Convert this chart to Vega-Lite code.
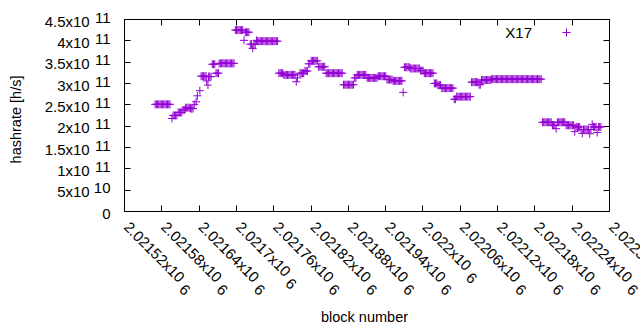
{
  "$schema": "https://vega.github.io/schema/vega-lite/v6.json",
  "width": 485,
  "height": 192,
  "autosize": {"type": "none"},
  "padding": {"left": 124, "top": 19, "right": 31, "bottom": 119},
  "background": "white",
  "config": {
    "view": {"stroke": null},
    "font": "Liberation Sans",
    "axis": {
      "grid": false,
      "domainColor": "black",
      "domainWidth": 1,
      "tickColor": "black",
      "tickWidth": 1,
      "tickSize": -6,
      "labelColor": "black",
      "titleColor": "black",
      "labelFont": "Liberation Sans",
      "titleFont": "Liberation Sans",
      "labelFontSize": 15,
      "titleFontSize": 14.5,
      "titleFontWeight": "normal",
      "labelOverlap": false,
      "labelFlush": false,
      "labelBound": false
    }
  },
  "data": {
    "values": [
      {"block": 2021570, "hashrate": 2.5e11},
      {"block": 2021572, "hashrate": 2.5e11},
      {"block": 2021574, "hashrate": 2.5e11},
      {"block": 2021576, "hashrate": 2.5e11},
      {"block": 2021578, "hashrate": 2.5e11},
      {"block": 2021580, "hashrate": 2.5e11},
      {"block": 2021582, "hashrate": 2.5e11},
      {"block": 2021584, "hashrate": 2.5e11},
      {"block": 2021586, "hashrate": 2.5e11},
      {"block": 2021588, "hashrate": 2.5e11},
      {"block": 2021590, "hashrate": 2.5e11},
      {"block": 2021592, "hashrate": 2.5e11},
      {"block": 2021594, "hashrate": 2.5e11},
      {"block": 2021597, "hashrate": 2.17e11},
      {"block": 2021599, "hashrate": 2.24e11},
      {"block": 2021601, "hashrate": 2.24e11},
      {"block": 2021603, "hashrate": 2.24e11},
      {"block": 2021605, "hashrate": 2.24e11},
      {"block": 2021607, "hashrate": 2.31e11},
      {"block": 2021609, "hashrate": 2.31e11},
      {"block": 2021611, "hashrate": 2.31e11},
      {"block": 2021613, "hashrate": 2.31e11},
      {"block": 2021615, "hashrate": 2.37e11},
      {"block": 2021617, "hashrate": 2.37e11},
      {"block": 2021619, "hashrate": 2.42e11},
      {"block": 2021621, "hashrate": 2.42e11},
      {"block": 2021623, "hashrate": 2.42e11},
      {"block": 2021625, "hashrate": 2.42e11},
      {"block": 2021627, "hashrate": 2.40e11},
      {"block": 2021629, "hashrate": 2.40e11},
      {"block": 2021631, "hashrate": 2.40e11},
      {"block": 2021633, "hashrate": 2.50e11},
      {"block": 2021636, "hashrate": 2.56e11},
      {"block": 2021638, "hashrate": 2.70e11},
      {"block": 2021642, "hashrate": 2.82e11},
      {"block": 2021644, "hashrate": 3.16e11},
      {"block": 2021646, "hashrate": 3.16e11},
      {"block": 2021648, "hashrate": 3.16e11},
      {"block": 2021650, "hashrate": 3.16e11},
      {"block": 2021652, "hashrate": 3.16e11},
      {"block": 2021653, "hashrate": 3.05e11},
      {"block": 2021655, "hashrate": 2.95e11},
      {"block": 2021656, "hashrate": 3.15e11},
      {"block": 2021658, "hashrate": 3.15e11},
      {"block": 2021660, "hashrate": 3.15e11},
      {"block": 2021662, "hashrate": 3.44e11},
      {"block": 2021664, "hashrate": 3.44e11},
      {"block": 2021666, "hashrate": 3.44e11},
      {"block": 2021668, "hashrate": 3.23e11},
      {"block": 2021670, "hashrate": 3.23e11},
      {"block": 2021672, "hashrate": 3.23e11},
      {"block": 2021673, "hashrate": 3.46e11},
      {"block": 2021675, "hashrate": 3.46e11},
      {"block": 2021677, "hashrate": 3.46e11},
      {"block": 2021679, "hashrate": 3.46e11},
      {"block": 2021681, "hashrate": 3.46e11},
      {"block": 2021683, "hashrate": 3.46e11},
      {"block": 2021685, "hashrate": 3.46e11},
      {"block": 2021687, "hashrate": 3.46e11},
      {"block": 2021689, "hashrate": 3.46e11},
      {"block": 2021691, "hashrate": 3.46e11},
      {"block": 2021693, "hashrate": 3.46e11},
      {"block": 2021695, "hashrate": 3.46e11},
      {"block": 2021697, "hashrate": 3.46e11},
      {"block": 2021699, "hashrate": 4.24e11},
      {"block": 2021701, "hashrate": 4.24e11},
      {"block": 2021703, "hashrate": 4.24e11},
      {"block": 2021705, "hashrate": 4.24e11},
      {"block": 2021707, "hashrate": 4.24e11},
      {"block": 2021709, "hashrate": 4.24e11},
      {"block": 2021711, "hashrate": 4.24e11},
      {"block": 2021713, "hashrate": 4.00e11},
      {"block": 2021715, "hashrate": 4.19e11},
      {"block": 2021717, "hashrate": 4.19e11},
      {"block": 2021719, "hashrate": 4.19e11},
      {"block": 2021721, "hashrate": 4.19e11},
      {"block": 2021723, "hashrate": 3.91e11},
      {"block": 2021725, "hashrate": 3.91e11},
      {"block": 2021727, "hashrate": 3.81e11},
      {"block": 2021729, "hashrate": 3.91e11},
      {"block": 2021731, "hashrate": 3.91e11},
      {"block": 2021733, "hashrate": 4.00e11},
      {"block": 2021735, "hashrate": 3.98e11},
      {"block": 2021737, "hashrate": 3.98e11},
      {"block": 2021739, "hashrate": 3.98e11},
      {"block": 2021741, "hashrate": 3.98e11},
      {"block": 2021743, "hashrate": 3.98e11},
      {"block": 2021745, "hashrate": 3.98e11},
      {"block": 2021747, "hashrate": 3.98e11},
      {"block": 2021749, "hashrate": 3.98e11},
      {"block": 2021751, "hashrate": 3.98e11},
      {"block": 2021753, "hashrate": 3.98e11},
      {"block": 2021755, "hashrate": 3.98e11},
      {"block": 2021757, "hashrate": 3.98e11},
      {"block": 2021759, "hashrate": 3.98e11},
      {"block": 2021761, "hashrate": 3.98e11},
      {"block": 2021763, "hashrate": 3.98e11},
      {"block": 2021765, "hashrate": 3.98e11},
      {"block": 2021767, "hashrate": 3.98e11},
      {"block": 2021769, "hashrate": 3.23e11},
      {"block": 2021771, "hashrate": 3.23e11},
      {"block": 2021773, "hashrate": 3.23e11},
      {"block": 2021775, "hashrate": 3.23e11},
      {"block": 2021777, "hashrate": 3.19e11},
      {"block": 2021779, "hashrate": 3.19e11},
      {"block": 2021781, "hashrate": 3.19e11},
      {"block": 2021783, "hashrate": 3.19e11},
      {"block": 2021785, "hashrate": 3.19e11},
      {"block": 2021787, "hashrate": 3.19e11},
      {"block": 2021789, "hashrate": 3.19e11},
      {"block": 2021791, "hashrate": 3.19e11},
      {"block": 2021793, "hashrate": 3.19e11},
      {"block": 2021795, "hashrate": 3.19e11},
      {"block": 2021797, "hashrate": 3.03e11},
      {"block": 2021799, "hashrate": 3.12e11},
      {"block": 2021803, "hashrate": 3.23e11},
      {"block": 2021805, "hashrate": 3.23e11},
      {"block": 2021807, "hashrate": 3.23e11},
      {"block": 2021809, "hashrate": 3.23e11},
      {"block": 2021811, "hashrate": 3.28e11},
      {"block": 2021813, "hashrate": 3.28e11},
      {"block": 2021815, "hashrate": 3.28e11},
      {"block": 2021817, "hashrate": 3.45e11},
      {"block": 2021819, "hashrate": 3.45e11},
      {"block": 2021821, "hashrate": 3.52e11},
      {"block": 2021823, "hashrate": 3.52e11},
      {"block": 2021825, "hashrate": 3.52e11},
      {"block": 2021827, "hashrate": 3.52e11},
      {"block": 2021829, "hashrate": 3.52e11},
      {"block": 2021831, "hashrate": 3.52e11},
      {"block": 2021833, "hashrate": 3.38e11},
      {"block": 2021835, "hashrate": 3.38e11},
      {"block": 2021837, "hashrate": 3.38e11},
      {"block": 2021839, "hashrate": 3.38e11},
      {"block": 2021841, "hashrate": 3.38e11},
      {"block": 2021843, "hashrate": 3.38e11},
      {"block": 2021845, "hashrate": 3.23e11},
      {"block": 2021847, "hashrate": 3.23e11},
      {"block": 2021849, "hashrate": 3.23e11},
      {"block": 2021851, "hashrate": 3.23e11},
      {"block": 2021853, "hashrate": 3.23e11},
      {"block": 2021855, "hashrate": 3.23e11},
      {"block": 2021857, "hashrate": 3.23e11},
      {"block": 2021859, "hashrate": 3.23e11},
      {"block": 2021861, "hashrate": 3.23e11},
      {"block": 2021863, "hashrate": 3.23e11},
      {"block": 2021865, "hashrate": 3.23e11},
      {"block": 2021867, "hashrate": 3.23e11},
      {"block": 2021869, "hashrate": 3.23e11},
      {"block": 2021871, "hashrate": 3.23e11},
      {"block": 2021873, "hashrate": 2.96e11},
      {"block": 2021875, "hashrate": 2.96e11},
      {"block": 2021877, "hashrate": 2.96e11},
      {"block": 2021879, "hashrate": 2.96e11},
      {"block": 2021881, "hashrate": 2.96e11},
      {"block": 2021883, "hashrate": 2.96e11},
      {"block": 2021885, "hashrate": 2.96e11},
      {"block": 2021887, "hashrate": 2.96e11},
      {"block": 2021889, "hashrate": 2.96e11},
      {"block": 2021891, "hashrate": 3.12e11},
      {"block": 2021893, "hashrate": 3.12e11},
      {"block": 2021895, "hashrate": 3.19e11},
      {"block": 2021897, "hashrate": 3.19e11},
      {"block": 2021899, "hashrate": 3.19e11},
      {"block": 2021901, "hashrate": 3.19e11},
      {"block": 2021903, "hashrate": 3.19e11},
      {"block": 2021905, "hashrate": 3.19e11},
      {"block": 2021907, "hashrate": 3.19e11},
      {"block": 2021909, "hashrate": 3.19e11},
      {"block": 2021911, "hashrate": 3.12e11},
      {"block": 2021913, "hashrate": 3.12e11},
      {"block": 2021915, "hashrate": 3.12e11},
      {"block": 2021917, "hashrate": 3.12e11},
      {"block": 2021919, "hashrate": 3.12e11},
      {"block": 2021921, "hashrate": 3.12e11},
      {"block": 2021923, "hashrate": 3.12e11},
      {"block": 2021925, "hashrate": 3.12e11},
      {"block": 2021927, "hashrate": 3.12e11},
      {"block": 2021929, "hashrate": 3.16e11},
      {"block": 2021931, "hashrate": 3.16e11},
      {"block": 2021933, "hashrate": 3.16e11},
      {"block": 2021935, "hashrate": 3.16e11},
      {"block": 2021937, "hashrate": 3.16e11},
      {"block": 2021939, "hashrate": 3.16e11},
      {"block": 2021941, "hashrate": 3.16e11},
      {"block": 2021943, "hashrate": 3.08e11},
      {"block": 2021945, "hashrate": 3.08e11},
      {"block": 2021947, "hashrate": 3.08e11},
      {"block": 2021949, "hashrate": 3.08e11},
      {"block": 2021951, "hashrate": 3.08e11},
      {"block": 2021953, "hashrate": 3.05e11},
      {"block": 2021955, "hashrate": 3.05e11},
      {"block": 2021957, "hashrate": 3.05e11},
      {"block": 2021959, "hashrate": 3.05e11},
      {"block": 2021961, "hashrate": 3.05e11},
      {"block": 2021963, "hashrate": 3.05e11},
      {"block": 2021965, "hashrate": 3.05e11},
      {"block": 2021967, "hashrate": 3.05e11},
      {"block": 2021969, "hashrate": 2.78e11},
      {"block": 2021971, "hashrate": 3.37e11},
      {"block": 2021973, "hashrate": 3.37e11},
      {"block": 2021975, "hashrate": 3.37e11},
      {"block": 2021977, "hashrate": 3.37e11},
      {"block": 2021979, "hashrate": 3.37e11},
      {"block": 2021981, "hashrate": 3.34e11},
      {"block": 2021983, "hashrate": 3.34e11},
      {"block": 2021985, "hashrate": 3.34e11},
      {"block": 2021987, "hashrate": 3.34e11},
      {"block": 2021989, "hashrate": 3.34e11},
      {"block": 2021991, "hashrate": 3.34e11},
      {"block": 2021993, "hashrate": 3.34e11},
      {"block": 2021995, "hashrate": 3.34e11},
      {"block": 2021997, "hashrate": 3.29e11},
      {"block": 2021999, "hashrate": 3.29e11},
      {"block": 2022001, "hashrate": 3.29e11},
      {"block": 2022003, "hashrate": 3.23e11},
      {"block": 2022005, "hashrate": 3.23e11},
      {"block": 2022007, "hashrate": 3.23e11},
      {"block": 2022009, "hashrate": 3.23e11},
      {"block": 2022011, "hashrate": 3.23e11},
      {"block": 2022013, "hashrate": 3.23e11},
      {"block": 2022015, "hashrate": 3.23e11},
      {"block": 2022017, "hashrate": 3.23e11},
      {"block": 2022019, "hashrate": 2.99e11},
      {"block": 2022021, "hashrate": 2.99e11},
      {"block": 2022023, "hashrate": 2.99e11},
      {"block": 2022025, "hashrate": 2.95e11},
      {"block": 2022027, "hashrate": 2.95e11},
      {"block": 2022029, "hashrate": 2.95e11},
      {"block": 2022031, "hashrate": 2.88e11},
      {"block": 2022033, "hashrate": 2.88e11},
      {"block": 2022035, "hashrate": 2.88e11},
      {"block": 2022037, "hashrate": 2.88e11},
      {"block": 2022039, "hashrate": 2.88e11},
      {"block": 2022041, "hashrate": 2.88e11},
      {"block": 2022043, "hashrate": 2.88e11},
      {"block": 2022045, "hashrate": 2.88e11},
      {"block": 2022047, "hashrate": 2.88e11},
      {"block": 2022049, "hashrate": 2.88e11},
      {"block": 2022051, "hashrate": 2.62e11},
      {"block": 2022053, "hashrate": 2.62e11},
      {"block": 2022055, "hashrate": 2.68e11},
      {"block": 2022057, "hashrate": 2.68e11},
      {"block": 2022059, "hashrate": 2.68e11},
      {"block": 2022061, "hashrate": 2.68e11},
      {"block": 2022063, "hashrate": 2.68e11},
      {"block": 2022065, "hashrate": 2.68e11},
      {"block": 2022067, "hashrate": 2.68e11},
      {"block": 2022069, "hashrate": 2.68e11},
      {"block": 2022071, "hashrate": 2.68e11},
      {"block": 2022073, "hashrate": 2.68e11},
      {"block": 2022075, "hashrate": 2.68e11},
      {"block": 2022077, "hashrate": 2.68e11},
      {"block": 2022079, "hashrate": 3.02e11},
      {"block": 2022081, "hashrate": 3.02e11},
      {"block": 2022083, "hashrate": 3.02e11},
      {"block": 2022085, "hashrate": 3.02e11},
      {"block": 2022087, "hashrate": 3.02e11},
      {"block": 2022089, "hashrate": 3.02e11},
      {"block": 2022091, "hashrate": 2.96e11},
      {"block": 2022093, "hashrate": 2.96e11},
      {"block": 2022095, "hashrate": 3.07e11},
      {"block": 2022097, "hashrate": 3.07e11},
      {"block": 2022099, "hashrate": 3.07e11},
      {"block": 2022101, "hashrate": 3.07e11},
      {"block": 2022103, "hashrate": 3.07e11},
      {"block": 2022105, "hashrate": 3.07e11},
      {"block": 2022107, "hashrate": 3.07e11},
      {"block": 2022109, "hashrate": 3.07e11},
      {"block": 2022111, "hashrate": 3.09e11},
      {"block": 2022113, "hashrate": 3.09e11},
      {"block": 2022115, "hashrate": 3.09e11},
      {"block": 2022117, "hashrate": 3.09e11},
      {"block": 2022119, "hashrate": 3.09e11},
      {"block": 2022121, "hashrate": 3.09e11},
      {"block": 2022123, "hashrate": 3.09e11},
      {"block": 2022125, "hashrate": 3.09e11},
      {"block": 2022127, "hashrate": 3.09e11},
      {"block": 2022129, "hashrate": 3.09e11},
      {"block": 2022131, "hashrate": 3.09e11},
      {"block": 2022133, "hashrate": 3.09e11},
      {"block": 2022135, "hashrate": 3.09e11},
      {"block": 2022137, "hashrate": 3.09e11},
      {"block": 2022139, "hashrate": 3.09e11},
      {"block": 2022141, "hashrate": 3.09e11},
      {"block": 2022143, "hashrate": 3.09e11},
      {"block": 2022145, "hashrate": 3.09e11},
      {"block": 2022147, "hashrate": 3.09e11},
      {"block": 2022149, "hashrate": 3.09e11},
      {"block": 2022151, "hashrate": 3.09e11},
      {"block": 2022153, "hashrate": 3.09e11},
      {"block": 2022155, "hashrate": 3.09e11},
      {"block": 2022157, "hashrate": 3.09e11},
      {"block": 2022159, "hashrate": 3.09e11},
      {"block": 2022161, "hashrate": 3.09e11},
      {"block": 2022163, "hashrate": 3.09e11},
      {"block": 2022165, "hashrate": 3.09e11},
      {"block": 2022167, "hashrate": 3.09e11},
      {"block": 2022169, "hashrate": 3.09e11},
      {"block": 2022171, "hashrate": 3.09e11},
      {"block": 2022173, "hashrate": 3.09e11},
      {"block": 2022175, "hashrate": 3.09e11},
      {"block": 2022177, "hashrate": 3.09e11},
      {"block": 2022179, "hashrate": 3.09e11},
      {"block": 2022181, "hashrate": 3.09e11},
      {"block": 2022183, "hashrate": 3.09e11},
      {"block": 2022185, "hashrate": 3.09e11},
      {"block": 2022187, "hashrate": 3.09e11},
      {"block": 2022189, "hashrate": 3.09e11},
      {"block": 2022191, "hashrate": 3.09e11},
      {"block": 2022193, "hashrate": 2.08e11},
      {"block": 2022195, "hashrate": 2.08e11},
      {"block": 2022197, "hashrate": 2.08e11},
      {"block": 2022199, "hashrate": 2.08e11},
      {"block": 2022201, "hashrate": 2.08e11},
      {"block": 2022203, "hashrate": 2.08e11},
      {"block": 2022205, "hashrate": 2.08e11},
      {"block": 2022207, "hashrate": 2.08e11},
      {"block": 2022209, "hashrate": 2.01e11},
      {"block": 2022211, "hashrate": 2.01e11},
      {"block": 2022213, "hashrate": 2.01e11},
      {"block": 2022215, "hashrate": 1.93e11},
      {"block": 2022217, "hashrate": 2.08e11},
      {"block": 2022219, "hashrate": 2.08e11},
      {"block": 2022221, "hashrate": 2.08e11},
      {"block": 2022223, "hashrate": 2.08e11},
      {"block": 2022225, "hashrate": 2.08e11},
      {"block": 2022227, "hashrate": 2.08e11},
      {"block": 2022229, "hashrate": 2.08e11},
      {"block": 2022231, "hashrate": 2.01e11},
      {"block": 2022233, "hashrate": 2.01e11},
      {"block": 2022235, "hashrate": 2.01e11},
      {"block": 2022237, "hashrate": 2.01e11},
      {"block": 2022239, "hashrate": 2.01e11},
      {"block": 2022241, "hashrate": 2.01e11},
      {"block": 2022243, "hashrate": 2.01e11},
      {"block": 2022245, "hashrate": 1.86e11},
      {"block": 2022247, "hashrate": 1.97e11},
      {"block": 2022249, "hashrate": 1.97e11},
      {"block": 2022251, "hashrate": 1.97e11},
      {"block": 2022253, "hashrate": 1.97e11},
      {"block": 2022255, "hashrate": 1.91e11},
      {"block": 2022257, "hashrate": 1.82e11},
      {"block": 2022259, "hashrate": 1.91e11},
      {"block": 2022261, "hashrate": 1.91e11},
      {"block": 2022263, "hashrate": 1.91e11},
      {"block": 2022265, "hashrate": 1.91e11},
      {"block": 2022267, "hashrate": 1.91e11},
      {"block": 2022269, "hashrate": 1.81e11},
      {"block": 2022271, "hashrate": 1.91e11},
      {"block": 2022273, "hashrate": 2.03e11},
      {"block": 2022275, "hashrate": 1.97e11},
      {"block": 2022277, "hashrate": 1.97e11},
      {"block": 2022279, "hashrate": 1.97e11},
      {"block": 2022281, "hashrate": 1.84e11},
      {"block": 2022283, "hashrate": 1.97e11},
      {"block": 2022285, "hashrate": 1.97e11},
      {"block": 2022287, "hashrate": 1.97e11}
    ]
  },
  "layer": [
    {
      "mark": {"type": "point", "shape": "M-1,0L1,0M0,-1L0,1", "size": 64, "filled": false, "strokeWidth": 1, "opacity": 1},
      "encoding": {
        "x": {
          "field": "block", "type": "quantitative",
          "scale": {"domain": [2021520, 2022300], "nice": false, "zero": false},
          "axis": {
            "values": [2021520, 2021580, 2021640, 2021700, 2021760, 2021820, 2021880, 2021940, 2022000, 2022060, 2022120, 2022180, 2022240, 2022300],
            "title": "block number",
            "labelAngle": 45,
            "labelAlign": "left",
            "labelBaseline": "middle",
            "labelPadding": 19,
            "labelOffset": 2,
            "labelLineHeight": 5,
            "labelExpr": "[format(datum.value/1e6,'.5~f')+'x10', '\u200b' + pad('', 2*length(format(datum.value/1e6,'.5~f')+'x10'), '\u00a0') + '6']",
            "titleX": 240,
            "titleY": 110,
            "titleBaseline": "alphabetic",
            "titleAlign": "center"
          }
        },
        "y": {
          "field": "hashrate", "type": "quantitative",
          "scale": {"domain": [0, 4.5e11], "nice": false},
          "axis": {
            "values": [0, 5e10, 1e11, 1.5e11, 2e11, 2.5e11, 3e11, 3.5e11, 4e11, 4.5e11],
            "title": "hashrate [h/s]",
            "labelExpr": "datum.value == 0 ? ['', '0'] : datum.value >= 1e11 ? ['11', format(datum.value/1e11,'~g')+'x10\u00a0\u00a0\u00a0\u00a0\u00a0\u200b'] : ['10', format(datum.value/1e10,'~g')+'x10\u00a0\u00a0\u00a0\u00a0\u00a0\u200b']",
            "labelLineHeight": 4,
            "labelOffset": -2,
            "labelPadding": 20,
            "titleAngle": -90,
            "titleX": -104,
            "titleY": 100,
            "titleBaseline": "alphabetic",
            "titleAlign": "center"
          }
        },
        "color": {
          "datum": "X17",
          "type": "nominal",
          "scale": {"range": ["#9400d3"]},
          "legend": {
            "title": null,
            "orient": "none",
            "legendX": 435,
            "legendY": 6,
            "labelAlign": "right",
            "labelOffset": -42,
            "symbolType": "M-1,0L1,0M0,-1L0,1",
            "symbolSize": 64,
            "symbolStrokeWidth": 1,
            "labelFont": "Liberation Sans",
            "labelFontSize": 15,
            "labelColor": "black"
          }
        }
      }
    },
    {
      "mark": {"type": "point", "opacity": 0},
      "encoding": {
        "x": {
          "field": "block", "type": "quantitative",
          "axis": {"orient": "top", "values": [2021520, 2021580, 2021640, 2021700, 2021760, 2021820, 2021880, 2021940, 2022000, 2022060, 2022120, 2022180, 2022240, 2022300], "labels": false, "title": null}
        },
        "y": {
          "field": "hashrate", "type": "quantitative",
          "axis": {"orient": "right", "values": [0, 5e10, 1e11, 1.5e11, 2e11, 2.5e11, 3e11, 3.5e11, 4e11, 4.5e11], "labels": false, "title": null}
        }
      }
    }
  ],
  "resolve": {"axis": {"x": "independent", "y": "independent"}}
}
